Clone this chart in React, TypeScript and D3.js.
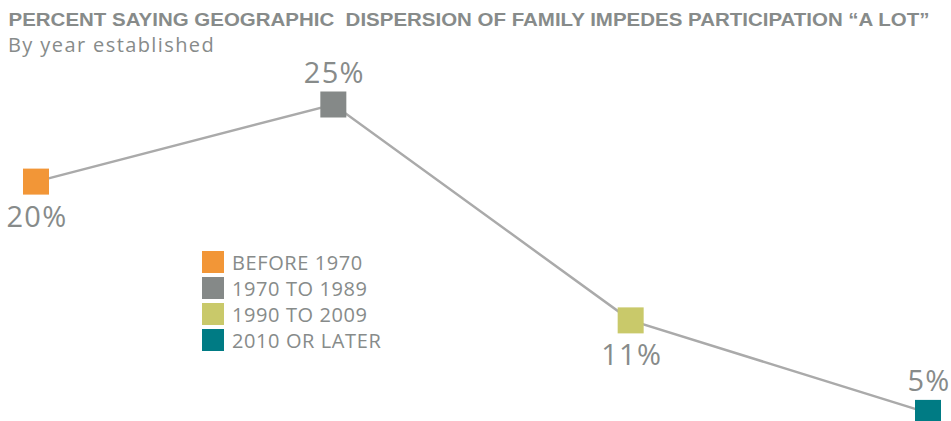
import React from "react";
import * as d3 from "d3";

const categories = ["BEFORE 1970", "1970 TO 1989", "1990 TO 2009", "2010 OR LATER"];
const values = [20, 25, 11, 5];
const colors = ["#F29637", "#858988", "#C9C96A", "#007B84"];
const labelPlacement = ["below", "above", "below", "above"];
const title = "PERCENT SAYING GEOGRAPHIC  DISPERSION OF FAMILY IMPEDES PARTICIPATION \u201CA LOT\u201D";
const subtitle = "By year established";

const W = 951;
const H = 421;
const textColor = "#878B8A";
const font = "'Open Sans', 'Liberation Sans', sans-serif";

export default function App() {
  const x = d3.scalePoint<string>().domain(categories).range([36, 928]);
  const y = d3.scaleLinear().domain([0, 25]).range([490, 104.5]);
  const pts: [number, number][] = values.map((v, i) => [x(categories[i]) as number, y(v)]);
  const line = d3.line();
  const s = 26;

  return (
    <svg width={W} height={H} style={{ position: "absolute", left: 0, top: 0, background: "#fff" }}>
      <text x={8.5} y={26} fill={textColor} fontFamily="'Liberation Sans', Arial, sans-serif" fontWeight="bold" fontSize={17.5} textLength={921} lengthAdjust="spacingAndGlyphs" style={{ whiteSpace: "pre" }}>
        {title}
      </text>
      <text x={8} y={52} fill={textColor} fontFamily={font} fontSize={20} letterSpacing={1.4}>
        {subtitle}
      </text>
      <path d={line(pts) || ""} fill="none" stroke="#AAAAAA" strokeWidth={2.5} />
      {pts.map(([px, py], i) => (
        <g key={categories[i]}>
          <rect x={px - s / 2} y={py - s / 2} width={s} height={s} fill={colors[i]} />
          <text
            x={px + 1}
            y={labelPlacement[i] === "below" ? py + s / 2 + 32 : py - s / 2 - 9}
            textAnchor="middle"
            fill={textColor}
            fontFamily={font}
            fontSize={29}
            letterSpacing={1.3}
          >
            {values[i]}%
          </text>
        </g>
      ))}
      <g transform="translate(202,251)">
        {categories.map((c, i) => (
          <g key={c} transform={`translate(0,${i * 26})`}>
            <rect width={22} height={22} fill={colors[i]} />
            <text x={30} y={19} fill={textColor} fontFamily={font} fontSize={20} letterSpacing={0.6}>
              {c}
            </text>
          </g>
        ))}
      </g>
    </svg>
  );
}
